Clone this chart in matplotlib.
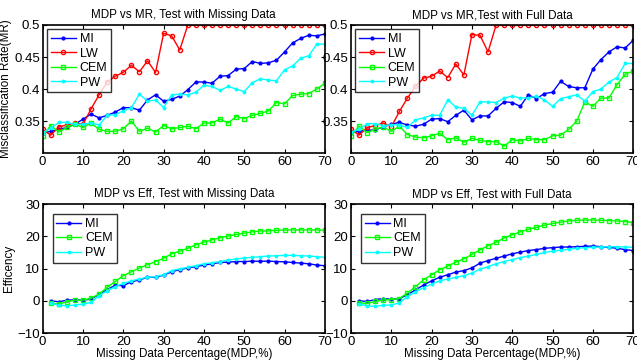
import numpy as np
import matplotlib
matplotlib.use('Agg')
import matplotlib.pyplot as plt

plt.rcParams['font.family'] = ['Liberation Sans', 'DejaVu Sans']

# missing data percentage
mdp_top = list(range(0, 71, 2))
mdp_bot = list(range(2, 71, 2))

# misclassification rate, test with missing data
mr_miss_mi = [0.331, 0.334, 0.337, 0.340, 0.345, 0.353, 0.361, 0.355, 0.359, 0.364, 0.371, 0.371,
              0.367, 0.383, 0.391, 0.381, 0.384, 0.389, 0.399, 0.411, 0.411, 0.409, 0.420, 0.421,
              0.431, 0.432, 0.443, 0.440, 0.441, 0.445, 0.458, 0.472, 0.479, 0.484, 0.483, 0.486]
mr_miss_lw = [0.337, 0.328, 0.341, 0.344, 0.347, 0.345, 0.369, 0.391, 0.411, 0.420, 0.426, 0.437,
              0.427, 0.444, 0.426, 0.487, 0.483, 0.461, 0.5, 0.5, 0.5, 0.5, 0.5, 0.5,
              0.5, 0.5, 0.5, 0.5, 0.5, 0.5, 0.5, 0.5, 0.5, 0.5, 0.5, 0.5]
mr_miss_cem = [0.327, 0.343, 0.333, 0.340, 0.345, 0.340, 0.347, 0.337, 0.334, 0.334, 0.338, 0.350,
               0.334, 0.339, 0.333, 0.343, 0.338, 0.340, 0.342, 0.338, 0.347, 0.347, 0.353, 0.347,
               0.357, 0.354, 0.359, 0.362, 0.366, 0.379, 0.377, 0.390, 0.392, 0.393, 0.400, 0.409]
mr_miss_pw = [0.332, 0.339, 0.348, 0.348, 0.345, 0.345, 0.347, 0.344, 0.359, 0.360, 0.366, 0.371,
              0.392, 0.381, 0.383, 0.371, 0.391, 0.392, 0.391, 0.395, 0.406, 0.404, 0.398, 0.404,
              0.400, 0.396, 0.410, 0.416, 0.414, 0.413, 0.430, 0.436, 0.448, 0.452, 0.470, 0.470]

# misclassification rate, test with full data
mr_full_mi = [0.332, 0.334, 0.336, 0.336, 0.341, 0.345, 0.348, 0.344, 0.342, 0.345, 0.353, 0.354,
              0.349, 0.359, 0.367, 0.352, 0.358, 0.358, 0.370, 0.380, 0.379, 0.373, 0.391, 0.385,
              0.393, 0.395, 0.412, 0.404, 0.402, 0.402, 0.431, 0.446, 0.458, 0.466, 0.464, 0.476]
mr_full_lw = [0.337, 0.328, 0.340, 0.343, 0.347, 0.341, 0.365, 0.386, 0.404, 0.417, 0.420, 0.428,
              0.418, 0.439, 0.422, 0.485, 0.484, 0.458, 0.5, 0.5, 0.5, 0.5, 0.5, 0.5,
              0.5, 0.5, 0.5, 0.5, 0.5, 0.5, 0.5, 0.5, 0.5, 0.5, 0.5, 0.5]
mr_full_cem = [0.327, 0.342, 0.332, 0.337, 0.341, 0.334, 0.342, 0.329, 0.325, 0.324, 0.327, 0.331,
               0.321, 0.324, 0.317, 0.323, 0.320, 0.318, 0.318, 0.311, 0.321, 0.319, 0.323, 0.321,
               0.321, 0.327, 0.328, 0.337, 0.350, 0.380, 0.373, 0.386, 0.386, 0.407, 0.423, 0.428]
mr_full_pw = [0.333, 0.337, 0.346, 0.346, 0.343, 0.344, 0.344, 0.340, 0.352, 0.355, 0.359, 0.359,
              0.383, 0.372, 0.370, 0.359, 0.380, 0.380, 0.379, 0.386, 0.389, 0.386, 0.386, 0.389,
              0.383, 0.373, 0.385, 0.388, 0.391, 0.381, 0.396, 0.400, 0.411, 0.418, 0.440, 0.440]

# efficiency, test with missing data
eff_miss_mi = [0.0, -0.3, 0.2, 0.3, 0.2, 0.5, 2.0, 3.5, 4.8, 4.7, 5.9, 6.5, 7.3, 7.3, 8.0, 9.0, 9.7,
               10.2, 10.6, 11.1, 11.5, 11.9, 12.0, 12.2, 12.2, 12.3, 12.3, 12.3, 12.2, 12.1, 11.9,
               11.7, 11.5, 11.1, 10.9]
eff_miss_cem = [-0.8, -1.0, -0.3, 0.2, 0.2, 0.8, 2.1, 4.2, 6.0, 7.8, 9.0, 10.2, 11.2, 12.2, 13.2,
                14.6, 15.4, 16.3, 17.4, 18.2, 18.9, 19.6, 20.1, 20.6, 21.0, 21.4, 21.7, 21.7, 21.9,
                22.0, 22.0, 22.0, 22.0, 22.0, 21.9]
eff_miss_pw = [-0.8, -1.3, -1.6, -1.3, -1.0, -0.5, 1.6, 3.1, 4.4, 5.4, 6.2, 6.8, 7.3, 7.5, 8.1, 9.4,
               9.9, 10.4, 10.9, 11.5, 11.8, 12.2, 12.7, 13.0, 13.3, 13.5, 13.7, 13.9, 14.0, 14.1,
               14.1, 14.0, 13.9, 13.7, 13.5]

# efficiency, test with full data
eff_full_mi = [0.0, -0.2, 0.4, 0.7, 0.5, 0.7, 1.9, 3.4, 4.9, 6.2, 7.3, 8.1, 8.9, 9.4, 10.2, 11.7,
               12.5, 13.2, 13.9, 14.6, 15.1, 15.6, 15.9, 16.3, 16.5, 16.7, 16.7, 16.8, 16.9, 17.0,
               16.8, 16.6, 16.3, 15.9, 15.6]
eff_full_cem = [-0.7, -0.8, -0.2, 0.2, 0.4, 0.7, 2.4, 4.4, 6.5, 8.1, 9.6, 10.8, 12.0, 13.0, 14.4,
                15.8, 17.1, 18.2, 19.5, 20.5, 21.4, 22.2, 22.8, 23.5, 24.0, 24.4, 24.8, 25.0, 25.1,
                25.1, 25.0, 24.9, 24.8, 24.6, 24.3]
eff_full_pw = [-1.0, -1.6, -1.7, -1.4, -1.3, -0.6, 1.3, 2.8, 4.1, 5.2, 6.2, 6.8, 7.3, 7.8, 8.6, 9.8,
               10.6, 11.5, 12.2, 12.8, 13.4, 13.9, 14.4, 15.0, 15.4, 15.7, 16.0, 16.3, 16.5, 16.6,
               16.7, 16.8, 16.8, 16.7, 16.6]

blue = '#0000ff'
red = '#ff0000'
green = '#00ff00'
cyan = '#00ffff'

fig = plt.figure(figsize=(6.37, 3.62), dpi=100)
ax_tl = fig.add_axes([0.067, 0.577, 0.443, 0.354])
ax_tr = fig.add_axes([0.551, 0.577, 0.443, 0.354])
ax_bl = fig.add_axes([0.067, 0.080, 0.443, 0.356])
ax_br = fig.add_axes([0.551, 0.080, 0.443, 0.356])


def style(ax, title):
    ax.set_title(title, fontsize=8.4, pad=5)
    ax.set_xlim(0, 70)
    ax.set_xticks(range(0, 71, 10))
    ax.tick_params(direction='in', top=True, right=True, labelsize=9.5, length=3, pad=2)
    for s in ax.spines.values():
        s.set_linewidth(1.2)


def legend(ax, pad):
    leg = ax.legend(loc='upper left', fontsize=9, frameon=True, fancybox=False,
                    handlelength=2.0, handletextpad=0.3, borderpad=0.3, labelspacing=0.2,
                    borderaxespad=pad)
    leg.get_frame().set_edgecolor('black')
    leg.get_frame().set_linewidth(1.0)


for ax, mi, lw, cem, pw, title in [
        (ax_tl, mr_miss_mi, mr_miss_lw, mr_miss_cem, mr_miss_pw, 'MDP vs MR, Test with Missing Data'),
        (ax_tr, mr_full_mi, mr_full_lw, mr_full_cem, mr_full_pw, 'MDP vs MR,Test with Full Data')]:
    ax.plot(mdp_top, mi, color=blue, marker='.', ms=4, lw=1, label='MI')
    ax.plot(mdp_top, lw, color=red, marker='o', ms=3, mfc='none', lw=1, label='LW')
    ax.plot(mdp_top, cem, color=green, marker='s', ms=3, mfc='none', lw=1, label='CEM')
    ax.plot(mdp_top, pw, color=cyan, marker='.', ms=3.5, lw=1, label='PW')
    ax.set_ylim(0.3, 0.5)
    ax.set_yticks([0.35, 0.4, 0.45, 0.5])
    ax.set_yticklabels(['0.35', '0.4', '0.45', '0.5'])
    style(ax, title)
    legend(ax, 0.35)

for ax, mi, cem, pw, title in [
        (ax_bl, eff_miss_mi, eff_miss_cem, eff_miss_pw, 'MDP vs Eff, Test with Missing Data'),
        (ax_br, eff_full_mi, eff_full_cem, eff_full_pw, 'MDP vs Eff, Test with Full Data')]:
    ax.plot(mdp_bot, mi, color=blue, marker='.', ms=4, lw=1, label='MI')
    ax.plot(mdp_bot, cem, color=green, marker='s', ms=3, mfc='none', lw=1, label='CEM')
    ax.plot(mdp_bot, pw, color=cyan, marker='.', ms=3.5, lw=1, label='PW')
    ax.set_ylim(-10, 30)
    ax.set_yticks([-10, 0, 10, 20, 30])
    ax.set_yticklabels(['\u221210', '0', '10', '20', '30'])
    style(ax, title)
    ax.set_xlabel('Missing Data Percentage(MDP,%)', fontsize=8.4, labelpad=0)
    legend(ax, 0.8)

ax_tl.set_ylabel('Misclassification Rate(MR)', fontsize=8.4)
ax_tl.yaxis.set_label_coords(-0.108, 0.5)
ax_bl.set_ylabel('Efficency', fontsize=8.4)
ax_bl.yaxis.set_label_coords(-0.097, 0.5)

fig.savefig('out.png', dpi=100)
